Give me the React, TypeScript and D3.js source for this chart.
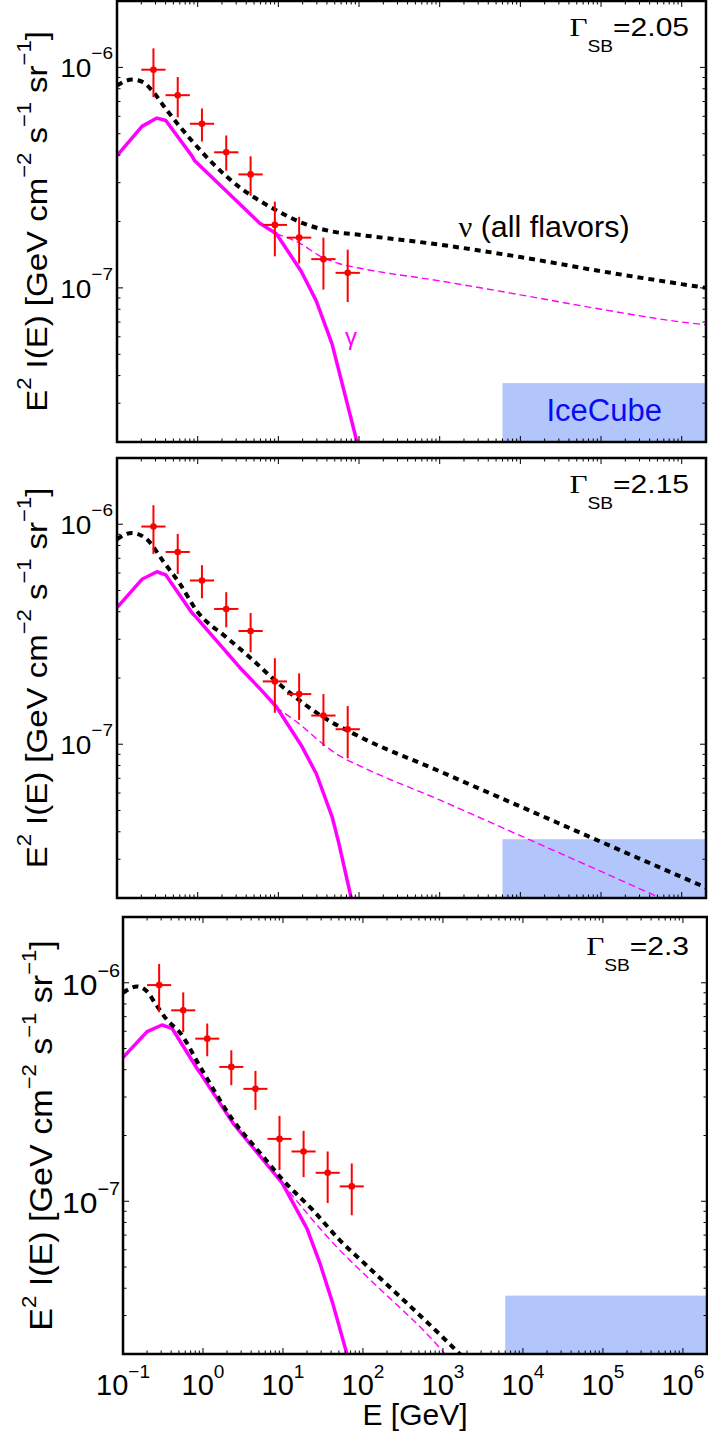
import React from "react";
import * as d3 from "d3";

const W = 708;
const H = 1438;
const sans = "'Liberation Sans', Arial, Helvetica, sans-serif";
const serif = "'Liberation Serif', 'Times New Roman', serif";

// Fermi diffuse data, identical in the three panels
const dataE = [0.283, 0.566, 1.13, 2.26, 4.53, 9.05, 18.1, 36.2, 72.4];
const dataELo = [0.2, 0.4, 0.8, 1.6, 3.2, 6.4, 12.8, 25.6, 51.2];
const dataEHi = [0.4, 0.8, 1.6, 3.2, 6.4, 12.8, 25.6, 51.2, 102.4];
const dataY = [9.76e-7, 7.48e-7, 5.55e-7, 4.12e-7, 3.27e-7, 1.93e-7, 1.69e-7, 1.35e-7, 1.17e-7];
const dataYLo = [7.33e-7, 5.94e-7, 4.61e-7, 3.4e-7, 2.62e-7, 1.39e-7, 1.29e-7, 9.82e-8, 8.63e-8];
const dataYHi = [1.22e-6, 9.04e-7, 6.51e-7, 4.91e-7, 3.95e-7, 2.46e-7, 2.1e-7, 1.69e-7, 1.49e-7];

// Gamma_SB = 2.05
const nu205 = [[0.1, 8.28e-7], [0.153, 8.8e-7], [0.21, 8.57e-7], [0.271, 7.86e-7], [0.416, 6.38e-7], [0.846, 4.65e-7], [1.55, 3.66e-7], [3.35, 2.85e-7], [5.9, 2.48e-7], [9.6, 2.24e-7], [18.5, 1.99e-7], [47, 1.8e-7], [100, 1.74e-7], [1e3, 1.57e-7], [1e4, 1.38e-7], [1e5, 1.19e-7], [1e6, 1.04e-7], [2e6, 1.0e-7]];
const gamIn205 = [[9.4, 1.76e-7], [18, 1.6e-7], [36, 1.37e-7], [56, 1.29e-7], [100, 1.23e-7], [1e3, 1.076e-7], [1e4, 9.3e-8], [1e5, 8.0e-8], [1e6, 7.0e-8], [2e6, 6.8e-8]];
const gamAbs205 = [[0.1, 3.98e-7], [0.204, 5.4e-7], [0.312, 5.89e-7], [0.403, 5.74e-7], [0.843, 3.98e-7], [0.919, 3.77e-7], [3.3, 2.41e-7], [5.83, 1.97e-7], [9.44, 1.76e-7], [19.2, 1.19e-7], [29.5, 8.73e-8], [46.4, 5.56e-8], [94.4, 2.0e-8], [110, 1.5e-8]];

// Gamma_SB = 2.15
const nu215 = [[0.1, 8.55e-7], [0.153, 9.13e-7], [0.234, 8.55e-7], [0.372, 6.8e-7], [0.6, 5.37e-7], [0.98, 4.03e-7], [2.3, 3.05e-7], [4.45, 2.48e-7], [9.1, 1.95e-7], [18, 1.59e-7], [35.6, 1.33e-7], [84, 1.12e-7], [1e3, 7.53e-8], [1e4, 5.21e-8], [1e5, 3.6e-8], [1e6, 2.49e-8], [2e6, 2.23e-8]];
const gamIn215 = [[9.4, 1.47e-7], [18, 1.24e-7], [36, 1.0e-7], [56, 8.9e-8], [100, 8.0e-8], [1e3, 5.58e-8], [1e4, 3.84e-8], [1e5, 2.64e-8], [1e6, 1.81e-8]];
const gamAbs215 = [[0.1, 4.18e-7], [0.204, 5.62e-7], [0.312, 6.08e-7], [0.403, 5.88e-7], [0.843, 3.97e-7], [0.919, 3.84e-7], [3.3, 2.24e-7], [6.44, 1.73e-7], [9.44, 1.48e-7], [19.2, 9.9e-8], [29.5, 7.36e-8], [46.4, 4.68e-8], [56, 3.57e-8], [80, 2.0e-8], [90, 1.6e-8]];

// Gamma_SB = 2.3
const nu23 = [[0.1, 9.0e-7], [0.149, 9.62e-7], [0.2, 9.12e-7], [0.25, 8.1e-7], [0.355, 6.76e-7], [0.52, 5.89e-7], [0.92, 4.13e-7], [2.37, 2.35e-7], [5.2, 1.66e-7], [10, 1.25e-7], [23.7, 9.1e-8], [51.6, 6.62e-8], [100, 5.27e-8], [1000, 2.38e-8], [3000, 1.6e-8]];
const gamIn23 = [[9.8, 1.21e-7], [51.6, 5.96e-8], [100, 4.7e-8], [1000, 2.05e-8], [2000, 1.5e-8]];
const gamAbs23 = [[0.1, 4.55e-7], [0.2, 5.98e-7], [0.307, 6.41e-7], [0.41, 6.19e-7], [0.866, 3.99e-7], [0.92, 3.87e-7], [2.37, 2.28e-7], [9.8, 1.21e-7], [19.9, 7.52e-8], [29, 5.2e-8], [42, 3.4e-8], [63, 2.0e-8], [70, 1.7e-8]];

// IceCube band
const iceE = [6e3, 2e6];
const iceY = [2e-8, 3.7e-8];

const xDomain = [0.1, 2e6];
const yDomain = [2e-8, 2e-6];
const xTicks = [1e-1, 1e0, 1e1, 1e2, 1e3, 1e4, 1e5, 1e6];
const xTickExp = ["\u22121", "0", "1", "2", "3", "4", "5", "6"];
const yTicks = [1e-7, 1e-6];
const yTickExp = ["\u22127", "\u22126"];
const gammaSB = ["2.05", "2.15", "2.3"];

const panels = [
  { x0: 117, x1: 706, y0: 1, y1: 442, nu: nu205, gin: gamIn205, gabs: gamAbs205, g: gammaSB[0], gy: 36, tick: { size: 25, sup: 17, sx: 1.12, gap: 4, base: 10 }, title: { x: 47, size: 30 }, labels: true },
  { x0: 117, x1: 706, y0: 458, y1: 898, nu: nu215, gin: gamIn215, gabs: gamAbs215, g: gammaSB[1], gy: 493, tick: { size: 25, sup: 17, sx: 1.12, gap: 4, base: 10 }, title: { x: 47, size: 30 }, labels: false },
  { x0: 123, x1: 707, y0: 917, y1: 1354, nu: nu23, gin: gamIn23, gabs: gamAbs23, g: gammaSB[2], gy: 955, tick: { size: 29, sup: 18, sx: 1.1, gap: 3, base: 12 }, title: { x: 52, size: 31 }, labels: false },
];

function minorTicks(lo: number, hi: number) {
  const out: number[] = [];
  for (let d = Math.floor(Math.log10(lo)); d <= Math.ceil(Math.log10(hi)); d++) {
    for (let k = 2; k <= 9; k++) {
      const v = k * Math.pow(10, d);
      if (v > lo * 1.0001 && v < hi * 0.9999) out.push(v);
    }
  }
  return out;
}

function Panel({ p, idx }: { p: any; idx: number }) {
  const xs = d3.scaleLog().domain(xDomain).range([p.x0, p.x1]);
  const ys = d3.scaleLog().domain(yDomain).range([p.y1, p.y0]);
  const smooth = d3.line<number[]>().x(d => xs(d[0])).y(d => ys(d[1])).curve(d3.curveMonotoneX);
  const straight = d3.line<number[]>().x(d => xs(d[0])).y(d => ys(d[1]));
  const clip = `clip${idx}`;
  const xMinor = minorTicks(xDomain[0], xDomain[1]);
  const yMinor = minorTicks(yDomain[0], yDomain[1]);
  const maj = 6;
  const mnr = 3.5;
  const cy = (p.y0 + p.y1) / 2;
  return (
    <g>
      <defs>
        <clipPath id={clip}>
          <rect x={p.x0} y={p.y0} width={p.x1 - p.x0} height={p.y1 - p.y0} />
        </clipPath>
      </defs>
      <g clipPath={`url(#${clip})`}>
        <rect x={xs(iceE[0])} y={ys(iceY[1])} width={xs(iceE[1]) - xs(iceE[0])} height={ys(iceY[0]) - ys(iceY[1])} fill="#b3c6fb" />
        {p.labels && (
          <text x={(xs(iceE[0]) + xs(iceE[1])) / 2} y={421} textAnchor="middle" fontSize={31} fill="#0a0af5">IceCube</text>
        )}
        <path d={straight(p.gabs) || ""} fill="none" stroke="#ff00ff" strokeWidth={3.5} strokeLinejoin="round" />
        <path d={smooth(p.gin) || ""} fill="none" stroke="#ff00ff" strokeWidth={1.4} strokeDasharray="7 4" />
        <path d={smooth(p.nu) || ""} fill="none" stroke="#000" strokeWidth={4} strokeDasharray="6 5" />
        {dataE.map((e, i) => (
          <g key={i} stroke="#ff0000" strokeWidth={2}>
            <line x1={xs(e)} x2={xs(e)} y1={ys(dataYLo[i])} y2={ys(dataYHi[i])} />
            <line x1={xs(dataELo[i])} x2={xs(dataEHi[i])} y1={ys(dataY[i])} y2={ys(dataY[i])} />
            <circle cx={xs(e)} cy={ys(dataY[i])} r={3.3} fill="#ff0000" stroke="none" />
          </g>
        ))}
      </g>
      <g stroke="#000" strokeWidth={1}>
        {xTicks.map(t => (
          <g key={"xM" + t}>
            <line x1={xs(t)} x2={xs(t)} y1={p.y1} y2={p.y1 - maj} />
            <line x1={xs(t)} x2={xs(t)} y1={p.y0} y2={p.y0 + maj} />
          </g>
        ))}
        {xMinor.map(t => (
          <g key={"xm" + t}>
            <line x1={xs(t)} x2={xs(t)} y1={p.y1} y2={p.y1 - mnr} />
            <line x1={xs(t)} x2={xs(t)} y1={p.y0} y2={p.y0 + mnr} />
          </g>
        ))}
        {yTicks.map(t => (
          <g key={"yM" + t}>
            <line x1={p.x0} x2={p.x0 + maj} y1={ys(t)} y2={ys(t)} />
            <line x1={p.x1} x2={p.x1 - maj} y1={ys(t)} y2={ys(t)} />
          </g>
        ))}
        {yMinor.map(t => (
          <g key={"ym" + t}>
            <line x1={p.x0} x2={p.x0 + mnr} y1={ys(t)} y2={ys(t)} />
            <line x1={p.x1} x2={p.x1 - mnr} y1={ys(t)} y2={ys(t)} />
          </g>
        ))}
      </g>
      <rect x={p.x0} y={p.y0} width={p.x1 - p.x0} height={p.y1 - p.y0} fill="none" stroke="#000" strokeWidth={2.5} />
      {yTicks.map((t, i) => (
        <g key={"yl" + t} transform={`translate(${p.x0 - p.tick.gap},${ys(t) + p.tick.base}) scale(${p.tick.sx},1)`}>
          <text textAnchor="end" fontSize={p.tick.size} fill="#000">
            10<tspan fontSize={p.tick.sup} dy={-18}>{yTickExp[i]}</tspan>
          </text>
        </g>
      ))}
      <g transform={`translate(${p.title.x},${cy}) rotate(-90) scale(1.1,1)`}>
        <text textAnchor="middle" fontSize={p.title.size} fill="#000" style={{ whiteSpace: "pre" }}>
          E<tspan fontSize={20} dy={-16}>2</tspan>
          <tspan dy={16}>{" I(E) [GeV cm"}</tspan>
          <tspan fontSize={20} dy={-16}>{"\u22122"}</tspan>
          <tspan dy={16}>{" s"}</tspan>
          <tspan fontSize={20} dy={-16}>{"\u22121"}</tspan>
          <tspan dy={16}>{" sr"}</tspan>
          <tspan fontSize={20} dy={-16}>{"\u22121"}</tspan>
          <tspan dy={16}>{"]"}</tspan>
        </text>
      </g>
      <g transform={`translate(689,${p.gy}) scale(1.2,1)`}>
        <text textAnchor="end" fontSize={25} fill="#000">
          <tspan fontFamily={serif} fontSize={26}>{"\u0393"}</tspan>
          <tspan fontSize={16} dy={16}>SB</tspan>
          <tspan dy={-16}>{"=" + p.g}</tspan>
        </text>
      </g>
      {p.labels && (
        <g>
          <g transform={`translate(544,237) scale(1.05,1)`}>
            <text textAnchor="middle" fontSize={29} fill="#000" style={{ whiteSpace: "pre" }}>
              <tspan fontFamily={serif}>{"\u03bd"}</tspan>
              <tspan>{" (all flavors)"}</tspan>
            </text>
          </g>
          <text x={351} y={345} textAnchor="middle" fontSize={24} fill="#ff00ff">{"\u03b3"}</text>
        </g>
      )}
    </g>
  );
}

export default function App() {
  const p3 = panels[2];
  const xs = d3.scaleLog().domain(xDomain).range([p3.x0, p3.x1]);
  return (
    <svg width={W} height={H} style={{ position: "absolute", left: 0, top: 0, background: "#fff" }} fontFamily={sans}>
      {panels.map((p, i) => (
        <Panel key={i} p={p} idx={i} />
      ))}
      {xTicks.map((t, i) => (
        <text key={"xl" + t} x={xs(t)} y={1395} textAnchor="middle" fontSize={29} fill="#000">
          10<tspan fontSize={19} dy={-17}>{xTickExp[i]}</tspan>
        </text>
      ))}
      <text x={(p3.x0 + p3.x1) / 2} y={1425} textAnchor="middle" fontSize={30} fill="#000">E [GeV]</text>
    </svg>
  );
}
